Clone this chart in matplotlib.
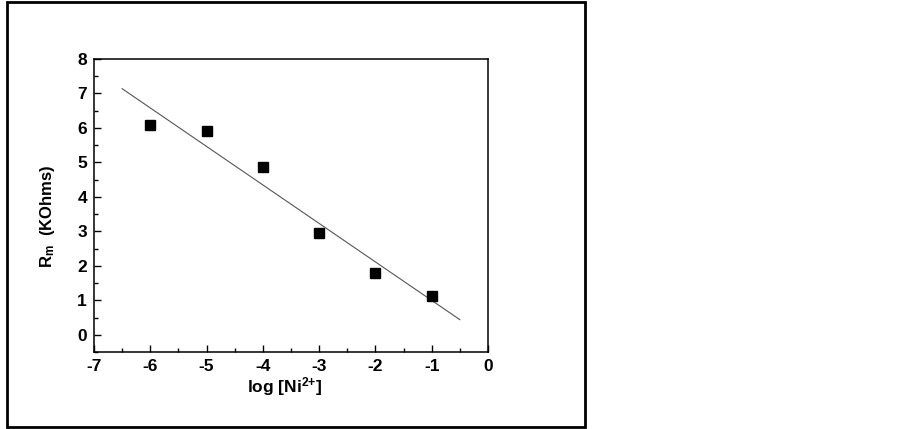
import numpy as np
import matplotlib
matplotlib.use('Agg')
import matplotlib.pyplot as plt
from matplotlib.patches import Rectangle
from matplotlib.ticker import MultipleLocator

plt.rcParams['font.family'] = ['Liberation Sans', 'DejaVu Sans']
plt.rcParams['font.weight'] = 'bold'
plt.rcParams['axes.unicode_minus'] = False
plt.rcParams['mathtext.fontset'] = 'custom'
plt.rcParams['mathtext.rm'] = 'Liberation Sans:bold'
plt.rcParams['mathtext.bf'] = 'Liberation Sans:bold'
plt.rcParams['mathtext.default'] = 'bf'

log_ni = [-6, -5, -4, -3, -2, -1]
rm_kohms = [6.08, 5.92, 4.87, 2.95, 1.78, 1.13]
fit_x = [-6.5, -0.5]

fig = plt.figure(figsize=(9.02, 4.29), dpi=100)
# outer frame
fig.patches.append(Rectangle((7 / 902, 2 / 429), 578 / 902, 425 / 429,
                             transform=fig.transFigure, fill=False,
                             edgecolor='black', linewidth=2))

ax = fig.add_axes([94 / 902, 1 - 352 / 429, 394 / 902, 293 / 429])

# linear fit
slope, intercept = np.polyfit(log_ni, rm_kohms, 1)
fx = np.array(fit_x)
ax.plot(fx, slope * fx + intercept, color='#555555', linewidth=0.8)
ax.plot(log_ni, rm_kohms, 's', color='black', markersize=7)

ax.set_xlim(-7, 0)
ax.set_ylim(-0.5, 8)
ax.xaxis.set_major_locator(MultipleLocator(1))
ax.xaxis.set_minor_locator(MultipleLocator(0.5))
ax.yaxis.set_major_locator(MultipleLocator(1))
ax.yaxis.set_minor_locator(MultipleLocator(0.5))
ax.tick_params(which='both', direction='in', width=1, labelsize=12.5)
ax.tick_params(which='major', length=5, pad=5)
ax.tick_params(which='minor', length=3)
for s in ax.spines.values():
    s.set_linewidth(1.1)

ax.set_xlabel('log [Ni$^{2{+}}$]', fontsize=12.5, fontweight='bold', va='center')
ax.set_ylabel('R$_{m}$  (KOhms)', fontsize=12, fontweight='bold', va='center')
ax.xaxis.set_label_coords(0.485, -0.119)
ax.yaxis.set_label_coords(-0.119, 0.464)

fig.savefig('out.png', dpi=100)
